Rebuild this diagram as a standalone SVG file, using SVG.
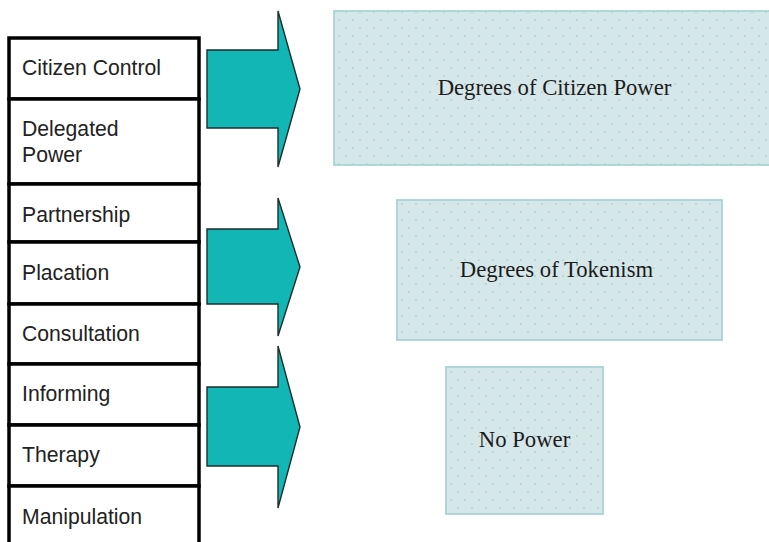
<svg xmlns="http://www.w3.org/2000/svg" width="769" height="542" viewBox="0 0 769 542">
  <defs>
    <pattern id="dots" width="14" height="16" patternUnits="userSpaceOnUse">
      <circle cx="3" cy="4" r="0.85" fill="#98cdcd"/>
      <circle cx="10" cy="12" r="0.85" fill="#98cdcd"/>
    </pattern>
    <style>
      .rung { fill: #ffffff; stroke: #000000; stroke-width: 3.5; }
      .rung-label { font-family: "Liberation Sans", Arial, sans-serif; font-size: 21.2px; fill: #222222; }
      .arrow { fill: #12b7b5; stroke: #1e2e2e; stroke-width: 1.4; stroke-linejoin: miter; }
      .panel-bg { fill: #d6e7ea; }
      .panel-dots { fill: url(#dots); stroke: #a9d3d6; stroke-width: 1.8; }
      .panel-label { font-family: "Liberation Serif", "Times New Roman", serif; font-size: 22.7px; fill: #1c1c1c; text-anchor: middle; }
    </style>
  </defs>

  <rect width="769" height="542" fill="#ffffff"/>

  <!-- Ladder of participation: eight rungs -->
  <g id="ladder">
    <g id="rung-citizen-control">
      <rect class="rung" x="9" y="38" width="190" height="61"/>
      <text class="rung-label" x="22" y="75">Citizen Control</text>
    </g>
    <g id="rung-delegated-power">
      <rect class="rung" x="9" y="99" width="190" height="85"/>
      <text class="rung-label" x="22" y="136">Delegated</text>
      <text class="rung-label" x="22" y="162">Power</text>
    </g>
    <g id="rung-partnership">
      <rect class="rung" x="9" y="184" width="190" height="58"/>
      <text class="rung-label" x="22" y="222">Partnership</text>
    </g>
    <g id="rung-placation">
      <rect class="rung" x="9" y="242" width="190" height="62"/>
      <text class="rung-label" x="22" y="280">Placation</text>
    </g>
    <g id="rung-consultation">
      <rect class="rung" x="9" y="304" width="190" height="60"/>
      <text class="rung-label" x="22" y="341">Consultation</text>
    </g>
    <g id="rung-informing">
      <rect class="rung" x="9" y="364" width="190" height="61"/>
      <text class="rung-label" x="22" y="401">Informing</text>
    </g>
    <g id="rung-therapy">
      <rect class="rung" x="9" y="425" width="190" height="61"/>
      <text class="rung-label" x="22" y="462">Therapy</text>
    </g>
    <g id="rung-manipulation">
      <rect class="rung" x="9" y="486" width="190" height="70"/>
      <text class="rung-label" x="22" y="524">Manipulation</text>
    </g>
  </g>

  <!-- Block arrows linking rung groups to categories -->
  <g id="connectors">
    <path class="arrow" d="M207,50 H278 V11 L300,89 L278,167 V128 H207 Z"/>
    <path class="arrow" d="M207,229 H278 V198 L300,267 L278,336 V304 H207 Z"/>
    <path class="arrow" d="M207,387 H278 V346 L300,427 L278,508 V466 H207 Z"/>
  </g>

  <!-- Category panels -->
  <g id="citizen-power">
    <rect class="panel-bg" x="334" y="11" width="440" height="154"/>
    <rect class="panel-dots" x="334" y="11" width="440" height="154"/>
    <text class="panel-label" x="554.5" y="95">Degrees of Citizen Power</text>
  </g>
  <g id="tokenism">
    <rect class="panel-bg" x="397" y="200" width="325" height="140"/>
    <rect class="panel-dots" x="397" y="200" width="325" height="140"/>
    <text class="panel-label" x="556.5" y="277">Degrees of Tokenism</text>
  </g>
  <g id="no-power">
    <rect class="panel-bg" x="446" y="367" width="157" height="147"/>
    <rect class="panel-dots" x="446" y="367" width="157" height="147"/>
    <text class="panel-label" x="524.5" y="447">No Power</text>
  </g>
</svg>
